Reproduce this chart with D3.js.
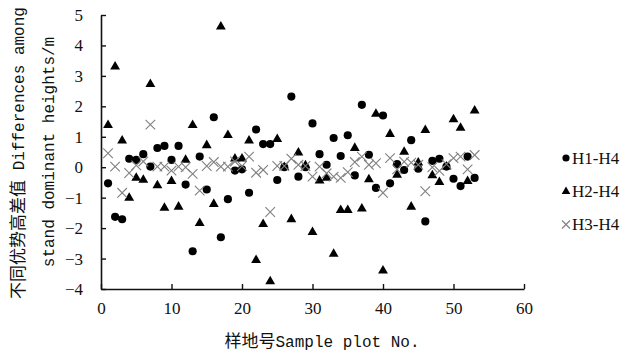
<!DOCTYPE html>
<html><head><meta charset="utf-8">
<script src="https://cdn.jsdelivr.net/npm/d3@7"></script>
<style>body{margin:0;background:#fff}</style>
</head><body>
<svg id="c" width="626" height="352"></svg>
<script>
const plots = [1,2,3,4,5,6,7,8,9,10,11,12,13,14,15,16,17,18,19,20,21,22,23,24,25,26,27,28,29,30,31,32,33,34,35,36,37,38,39,40,41,42,43,44,45,46,47,48,49,50,51,52,53];
const h1h4 = [-0.53,-1.63,-1.71,0.28,0.24,0.43,0.02,0.63,0.70,0.24,0.70,-0.57,-2.76,0.35,-0.73,1.64,-2.30,-1.05,-0.11,-0.07,-0.84,1.24,0.76,0.76,-0.42,0.00,2.32,-0.31,0.00,1.44,0.43,0.08,0.96,0.37,1.05,-0.27,2.05,0.41,-0.68,1.70,-0.53,0.10,-0.09,0.89,-0.05,-1.78,0.21,0.28,0.02,-0.38,-0.62,0.35,-0.35];
const h2h4 = [1.38,3.30,0.87,-1.01,-0.35,-0.42,2.73,-0.60,-1.34,-0.46,-1.30,0.24,1.38,-1.84,0.72,-1.21,4.62,1.05,0.28,0.28,0.87,-3.05,-1.87,-3.75,0.92,0.00,-1.71,0.48,0.06,-2.13,-0.44,-0.35,-2.85,-1.41,-1.41,0.63,-1.36,-0.40,1.75,-3.40,1.09,-0.25,0.50,-1.30,0.15,1.22,-0.27,-0.49,0.02,1.57,1.29,-0.46,1.86];
const h3h4 = [0.46,0.02,-0.84,-0.19,0.06,0.19,1.40,0.02,0.02,-0.11,0.02,0.00,-0.22,-0.77,0.04,0.17,0.02,0.02,0.19,0.04,0.35,-0.18,-0.09,-1.47,0.04,0.04,0.28,0.08,0.04,-0.31,0.02,-0.20,-0.31,-0.35,-0.16,0.17,0.35,0.08,0.13,-0.84,0.30,-0.07,0.18,0.15,0.08,-0.79,0.00,-0.12,0.10,0.30,0.35,-0.07,0.40];
const seriesNames = ["H1-H4","H2-H4","H3-H4"];
const xTicks = [0,10,20,30,40,50,60];
const yTicks = [-4,-3,-2,-1,0,1,2,3,4,5];

const svg = d3.select("#c");
const x = d3.scaleLinear().domain([0,60]).range([101,524]);
const y = d3.scaleLinear().domain([-4,5]).range([289,15]);
const serif = "'Liberation Serif','Times New Roman',serif";
const mono = "'Liberation Mono','Noto Sans CJK SC',monospace";
const cjk = "'Noto Sans CJK SC',sans-serif";

// axes
const gx = svg.append("g").attr("transform","translate(0,289)")
  .call(d3.axisBottom(x).tickValues(xTicks).tickSizeInner(-5).tickSizeOuter(0).tickFormat(d3.format("d")));
gx.selectAll("text").attr("y",13).attr("dy","0.71em");
const gy = svg.append("g").attr("transform","translate(101,0)")
  .call(d3.axisLeft(y).tickValues(yTicks).tickSizeInner(-5).tickSizeOuter(0));
gy.selectAll("text").attr("x",-18);
[gx,gy].forEach(g=>{
  g.select(".domain").attr("stroke","#111").attr("stroke-width",1.6);
  g.selectAll(".tick line").attr("stroke","#111").attr("stroke-width",1.4);
  g.selectAll("text").attr("font-family",serif).attr("font-size",17).attr("fill","#111");
});

// marks
const circ = d3.symbol(d3.symbolCircle,52)();
const tri = d3.symbol(d3.symbolTriangle,42)();
const crossPath = r => `M${-r},${-r}L${r},${r}M${-r},${r}L${r},${-r}`;

svg.append("g").selectAll("path").data(plots.map((p,i)=>[p,h1h4[i]])).join("path")
  .attr("d",circ).attr("fill","#000")
  .attr("transform",d=>`translate(${x(d[0])},${y(d[1])})`);
svg.append("g").selectAll("path").data(plots.map((p,i)=>[p,h2h4[i]])).join("path")
  .attr("d",tri).attr("fill","#000")
  .attr("transform",d=>`translate(${x(d[0])},${y(d[1])})`);
svg.append("g").selectAll("path").data(plots.map((p,i)=>[p,h3h4[i]])).join("path")
  .attr("d",crossPath(4.8)).attr("fill","none").attr("stroke","#808080").attr("stroke-width",1.1)
  .attr("transform",d=>`translate(${x(d[0])},${y(d[1])})`);

// legend
const leg = svg.append("g");
const legY = [158,191.5,224.5];
leg.append("path").attr("d",d3.symbol(d3.symbolCircle,40)()).attr("transform",`translate(566,${legY[0]})`);
leg.append("path").attr("d",d3.symbol(d3.symbolTriangle,32)()).attr("transform",`translate(566,${legY[1]})`);
leg.append("path").attr("d",crossPath(4)).attr("stroke","#808080").attr("stroke-width",1.1).attr("fill","none").attr("transform",`translate(566,${legY[2]})`);
leg.selectAll("text").data(seriesNames).join("text")
  .attr("x",572).attr("y",(d,i)=>legY[i]).attr("dy","0.35em")
  .attr("font-family",serif).attr("font-size",17).attr("fill","#111").text(d=>d);

// axis titles
const xt = svg.append("text").attr("x",322).attr("y",341).attr("dy","0.35em").attr("text-anchor","middle")
  .attr("font-family",mono).attr("font-size",16).attr("fill","#111");
xt.append("tspan").attr("font-family",cjk).attr("font-size",17).text("样地号");
xt.append("tspan").text("Sample plot No.");
const yt1 = svg.append("text").attr("transform","translate(18,153) rotate(-90)").attr("dy","0.35em").attr("text-anchor","middle")
  .attr("font-family",mono).attr("font-size",16).attr("fill","#111");
yt1.append("tspan").attr("font-family",cjk).attr("font-size",17).text("不同优势高差值");
yt1.append("tspan").text(" Differences among");
svg.append("text").attr("transform","translate(48,152) rotate(-90)").attr("dy","0.35em").attr("text-anchor","middle")
  .attr("font-family",mono).attr("font-size",16).attr("fill","#111").text("stand dominant heights/m");
</script>
</body></html>
